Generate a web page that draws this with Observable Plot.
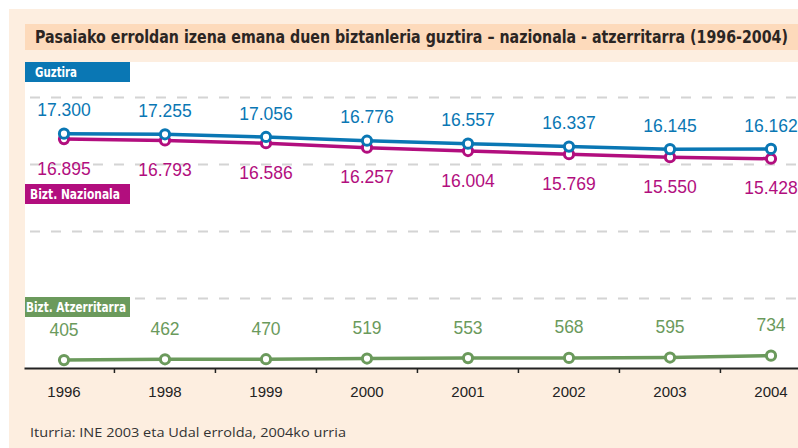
<!DOCTYPE html>
<html>
<head>
<meta charset="utf-8">
<script src="https://cdn.jsdelivr.net/npm/d3@7"></script>
<script src="https://cdn.jsdelivr.net/npm/@observablehq/plot@0.6"></script>
<style>
  html, body { margin: 0; padding: 0; background: #ffffff; width: 798px; height: 448px; overflow: hidden; }
  #outer { position: absolute; left: 9px; top: 9px; width: 789px; height: 439px; background: #fdeee0; }
  #titleband { position: absolute; left: 25px; top: 24px; width: 773px; height: 26px; background: #fddabb; }
  #title { position: absolute; left: 35px; top: 24px; height: 26px; line-height: 26px; white-space: nowrap;
           font-family: "Liberation Sans Narrow", "DejaVu Sans Condensed", sans-serif; font-weight: bold;
           font-size: 18px; color: #2b2523; transform-origin: 0 50%; }
  #plotbg { position: absolute; left: 25px; top: 62px; width: 773px; height: 306px; background: #ffffff; }
  #chart { position: absolute; left: 25px; top: 62px; }
  .lab { position: absolute; left: 25px; width: 105px; height: 20px; }
  .lab span { position: absolute; top: 0; height: 20px; line-height: 20px; color: #fff;
         font-family: "Liberation Sans Narrow", "DejaVu Sans Condensed", sans-serif; font-weight: bold; font-size: 14px;
         white-space: nowrap; transform-origin: 0 50%; }
  #caption { position: absolute; left: 30px; top: 423px; font-family: "Open Sans", "Liberation Sans", sans-serif;
             font-size: 13.5px; color: #333; white-space: nowrap; transform-origin: 0 50%; }
</style>
</head>
<body>
<div id="outer"></div>
<div id="titleband"></div>
<div id="title">Pasaiako erroldan izena emana duen biztanleria guztira – nazionala - atzerritarra (1996-2004)</div>
<div id="plotbg"></div>
<div id="chart"></div>
<div class="lab" style="top:62px; background:#0a77b4;"><span id="lab1" style="left:10px;">Guztira</span></div>
<div class="lab" style="top:184px; background:#b20e7e;"><span id="lab2" style="left:5px;">Bizt. Nazionala</span></div>
<div class="lab" style="top:297px; background:#6b9a5c;"><span id="lab3" style="left:1px;">Bizt. Atzerritarra</span></div>
<div id="caption">Iturria: INE 2003 eta Udal errolda, 2004ko urria</div>
<script>
const years = ["1996", "1998", "1999", "2000", "2001", "2002", "2003", "2004"];
const guztira = [17300, 17255, 17056, 16776, 16557, 16337, 16145, 16162];
const nazionala = [16895, 16793, 16586, 16257, 16004, 15769, 15550, 15428];
const atzerritarra = [405, 462, 470, 519, 553, 568, 595, 734];
const gridValues = [5000, 10000, 15000, 20000];

const colors = { guztira: "#0a77b4", nazionala: "#b20e7e", atzerritarra: "#6b9a5c" };
const fmt = d3.formatLocale({ thousands: ".", grouping: [3], decimal: "," }).format(",");

const series = [
  { key: "nazionala", values: nazionala, dy: 30 },
  { key: "guztira", values: guztira, dy: -23 },
  { key: "atzerritarra", values: atzerritarra, dy: -30 }
];

const W = 773, H = 348;
const bandStep = (796.5 - (-12.5)) / years.length;

const marks = [
  Plot.ruleY(gridValues, { stroke: "#d4d4d4", strokeWidth: 2, strokeDasharray: "10,11", insetLeft: 5 })
];
for (const s of series) {
  const rows = years.map((y, i) => ({ year: y, value: s.values[i] }));
  marks.push(Plot.line(rows, { x: "year", y: "value", stroke: colors[s.key], strokeWidth: 3.5 }));
}
for (const s of series) {
  const rows = years.map((y, i) => ({ year: y, value: s.values[i] }));
  marks.push(Plot.dot(rows, { x: "year", y: "value", r: 4.6, fill: "#fff", stroke: colors[s.key], strokeWidth: 3 }));
}
for (const s of series) {
  const rows = years.map((y, i) => ({ year: y, value: s.values[i] }));
  marks.push(Plot.text(rows, { x: "year", y: "value", text: d => fmt(d.value), dy: s.dy, dx: 0,
    fill: colors[s.key], fontSize: 17.5, fontFamily: "Liberation Sans, Arial, sans-serif" }));
}
marks.push(Plot.axisX(years.slice(1), { tickSize: 5, dx: -bandStep / 2, text: null, label: null, stroke: "#222", strokeWidth: 1.5 }));
marks.push(Plot.axisX({ tickSize: 0, tickPadding: 18, fontSize: 15, fill: "#222", label: null, fontFamily: "Liberation Sans, Arial, sans-serif" }));
marks.push(Plot.frame({ anchor: "bottom", stroke: "#222", strokeWidth: 2 }));

const chart = Plot.plot({
  width: W,
  height: H,
  marginTop: 0,
  marginLeft: 0,
  marginRight: 0,
  marginBottom: 42,
  style: { background: "transparent", fontFamily: "Liberation Sans, Arial, sans-serif", overflow: "visible" },
  x: { type: "band", domain: years, range: [-12.5, 796.5], padding: 0, axis: null, label: null },
  y: { type: "linear", domain: [0, 20000], range: [303, 35], axis: null, label: null },
  marks
});
document.getElementById("chart").appendChild(chart);

// fit texts to the reference widths
function fit(id, target) {
  const el = document.getElementById(id);
  const w = el.getBoundingClientRect().width;
  el.style.transform = `scaleX(${target / w})`;
}
fit("title", 753);
fit("lab1", 42);
fit("lab2", 90);
fit("lab3", 100);
fit("caption", 316);
</script>
</body>
</html>
